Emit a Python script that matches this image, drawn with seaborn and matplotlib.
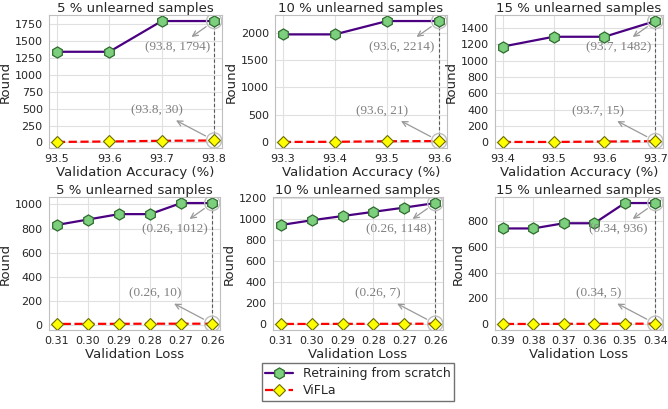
import numpy as np
import matplotlib
matplotlib.use("Agg")
import matplotlib.pyplot as plt
from matplotlib.ticker import MultipleLocator
import seaborn as sns

# values
acc_x_5 = [93.5, 93.6, 93.7, 93.8]
acc_retrain_5 = [1340, 1340, 1794, 1794]
acc_vifla_5 = [8, 15, 25, 30]

acc_x_10 = [93.3, 93.4, 93.5, 93.6]
acc_retrain_10 = [1970, 1970, 2214, 2214]
acc_vifla_10 = [5, 8, 18, 21]

acc_x_15 = [93.4, 93.5, 93.6, 93.7]
acc_retrain_15 = [1170, 1290, 1290, 1482]
acc_vifla_15 = [5, 5, 10, 15]

loss_x_5 = [0.31, 0.30, 0.29, 0.28, 0.27, 0.26]
loss_retrain_5 = [830, 875, 920, 920, 1012, 1012]
loss_vifla_5 = [8, 9, 9, 10, 10, 10]

loss_x_10 = [0.31, 0.30, 0.29, 0.28, 0.27, 0.26]
loss_retrain_10 = [940, 985, 1025, 1065, 1105, 1148]
loss_vifla_10 = [5, 5, 6, 6, 7, 7]

loss_x_15 = [0.39, 0.38, 0.37, 0.36, 0.35, 0.34]
loss_retrain_15 = [740, 740, 780, 780, 936, 936]
loss_vifla_15 = [3, 3, 4, 4, 5, 5]

titles = ["5 % unlearned samples", "10 % unlearned samples", "15 % unlearned samples"]
ytick_steps = [250, 500, 200, 200, 200, 200]

sns.set_style("whitegrid", {"axes.edgecolor": "0.75", "grid.color": "0.88"})
plt.rcParams["font.family"] = ["DejaVu Sans"]

fig = plt.figure(figsize=(6.68, 4.09), dpi=100)

W, H = 668, 409
boxes = [
    (49, 15, 222, 148), (275, 15, 447, 148), (495, 15, 663, 148),
    (49, 197, 220, 330), (273, 197, 443, 330), (495, 197, 663, 330),
]

panels = [
    (acc_x_5, acc_retrain_5, acc_vifla_5, titles[0], "acc"),
    (acc_x_10, acc_retrain_10, acc_vifla_10, titles[1], "acc"),
    (acc_x_15, acc_retrain_15, acc_vifla_15, titles[2], "acc"),
    (loss_x_5, loss_retrain_5, loss_vifla_5, titles[0], "loss"),
    (loss_x_10, loss_retrain_10, loss_vifla_10, titles[1], "loss"),
    (loss_x_15, loss_retrain_15, loss_vifla_15, titles[2], "loss"),
]

for (x0, y0, x1, y1), (xs, retrain, vifla, title, kind), step in zip(boxes, panels, ytick_steps):
    ax = fig.add_axes([x0 / W, 1 - y1 / H, (x1 - x0) / W, (y1 - y0) / H])

    sns.lineplot(x=xs, y=retrain, ax=ax, color="#4B0082", lw=1.6,
                 marker="h", markersize=8, markerfacecolor="#7ccf7c",
                 markeredgecolor="#2f6b2f", markeredgewidth=0.9,
                 label="Retraining from scratch")
    sns.lineplot(x=xs, y=vifla, ax=ax, color="red", lw=1.6, linestyle="--",
                 marker="D", markersize=6.5, markerfacecolor="#ffff00",
                 markeredgecolor="#6b6b00", markeredgewidth=0.8,
                 label="ViFLa")
    ax.get_legend().remove()

    xl, yt, yb = xs[-1], retrain[-1], vifla[-1]
    ax.plot([xl, xl], [yb, yt], color="0.35", lw=0.8, linestyle=(0, (3, 2)), zorder=1)
    ax.scatter([xl, xl], [yt, yb], s=120, facecolors="none", edgecolors="0.75",
               linewidths=1, zorder=5)

    fmt = "{:.1f}" if kind == "acc" else "{:.2f}"
    for yv, off in [(yt, (-37, -26)), (yb, (-57, 30))]:
        ax.annotate("(" + fmt.format(xl) + ", " + str(yv) + ")",
                    xy=(xl, yv), xytext=off, textcoords="offset pixels",
                    ha="center", va="center", fontsize=9.5, color="0.5",
                    family="Liberation Serif",
                    arrowprops=dict(arrowstyle="<-", color="0.6", lw=0.9,
                                    shrinkA=1, shrinkB=7))

    ax.set_xticks(xs)
    ax.set_xticklabels([fmt.format(v) for v in xs])
    ax.yaxis.set_major_locator(MultipleLocator(step))
    if kind == "loss":
        ax.invert_xaxis()
        ax.set_xlabel("Validation Loss", fontsize=9.5, labelpad=1)
    else:
        ax.set_xlabel("Validation Accuracy (%)", fontsize=9.5, labelpad=1)
    ax.set_ylabel("Round", fontsize=9.5, labelpad=2)
    ax.set_title(title, fontsize=9.5, pad=2)
    ax.tick_params(labelsize=8, pad=1)

handles, labels = ax.get_legend_handles_labels()
fig.legend(handles, labels, loc="lower center", bbox_to_anchor=(0.536, 0.005),
           fontsize=9, frameon=True, fancybox=False, edgecolor="0.3",
           handlelength=2.2, borderpad=0.3, labelspacing=0.3)

fig.savefig("out.png", dpi=100)
